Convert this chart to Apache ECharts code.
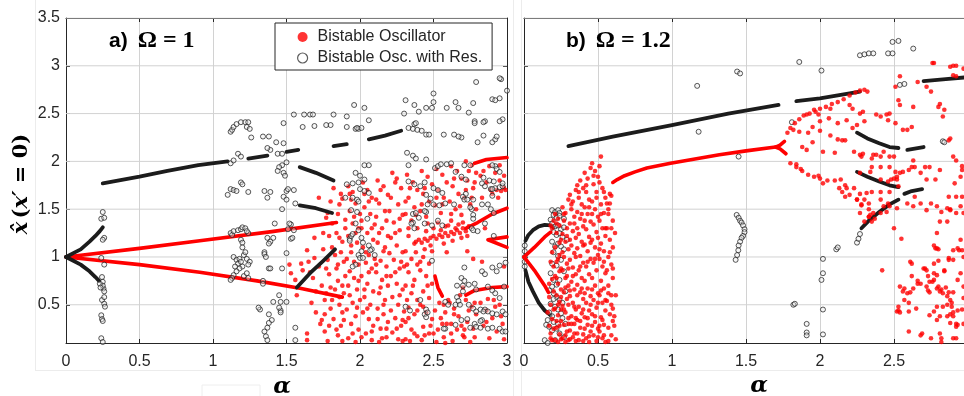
<!DOCTYPE html>
<html>
<head>
<meta charset="utf-8">
<script src="https://cdn.jsdelivr.net/npm/echarts@6/dist/echarts.min.js"></script>
<style>
  html, body { margin: 0; padding: 0; background: #fff; }
  #chart { width: 964px; height: 396px; }
</style>
</head>
<body>
<div id="chart"></div>
<script>
// ---- axis ticks ----
const alphaTicks = [0, 0.5, 1, 1.5, 2, 2.5, 3];
const xhatTicks = [0.5, 1, 1.5, 2, 2.5, 3, 3.5];

// ---- panel a) Omega = 1 ----
// dense branches of the bistable oscillator (drawn as continuous traces)
const aRedLines = [
  [[0,1],[0.5,1.09],[0.91,1.17],[1.4,1.265],[1.84,1.36]],
  [[0,1],[0.5,0.92],[0.91,0.84],[1.3,0.75],[1.6,0.67],[1.88,0.58]],
  [[2.72,1.3],[2.8,1.36],[2.9,1.45],[3.0,1.51]],
  [[3.0,1.21],[2.87,1.18],[3.0,1.1]],
  [[2.72,0.6],[2.78,0.65],[2.9,0.68],[3.0,0.69]],
  [[2.78,1.98],[2.86,2.02],[3.0,2.04]],
  [[2.51,0.8],[2.53,0.68],[2.56,0.59]]
];
// scattered points of the bistable oscillator
const aRedDots = [
  [1.52,0.92],[1.53,0.83],[1.56,0.76],[1.6,0.93],[1.61,0.86],[1.64,1.07],[1.65,0.95],[1.66,0.84],[1.57,0.6],[1.64,0.2],[1.64,0.13],[1.68,0.78],[1.69,0.99],[1.67,0.52],[1.7,0.42],[1.69,1.2],[1.7,0.64],
  [1.72,1.62],[1.73,0.3],[1.74,0.34],[1.72,0.9],[1.75,1.08],[1.74,0.7],[1.76,0.55],[1.78,1.46],[1.77,1.41],[1.76,0.22],[1.78,0.97],[1.79,0.82],[1.8,0.46],[1.78,0.12],[1.79,1.22],[1.77,0.62],
  [1.82,1.72],[1.86,1.55],[1.87,1.66],[1.88,1.61],[1.9,1.39],[1.9,1.3],[1.81,1.1],[1.83,1.02],[1.84,0.88],[1.85,0.75],[1.83,0.66],[1.86,0.5],[1.88,0.42],[1.82,0.35],[1.87,0.28],[1.85,0.18],[1.89,0.95],[1.88,1.16],[1.84,1.25],[1.9,0.8],[1.89,0.62],[1.81,0.55],
  [1.92,1.74],[1.95,1.68],[1.97,1.56],[1.93,1.48],[1.96,1.42],[1.92,1.22],[1.98,1.15],[1.94,1.05],[1.91,0.98],[1.99,0.92],[1.93,0.85],[1.96,0.78],[1.92,0.7],[1.98,0.66],[1.95,0.52],[1.91,0.45],[1.97,0.38],[1.94,0.3],[1.99,0.24],[1.92,0.15],[1.97,0.11],[2.0,0.55],[1.99,1.3],[1.94,1.6],
  [2.02,1.78],[2.05,1.7],[2.08,1.62],[2.03,1.52],[2.07,1.45],[2.01,1.38],[2.05,1.25],[2.09,1.18],[2.02,1.1],[2.06,1.02],[2.04,0.94],[2.08,0.88],[2.01,0.8],[2.05,0.72],[2.09,0.64],[2.03,0.58],[2.07,0.5],[2.02,0.42],[2.06,0.35],[2.09,0.28],[2.04,0.2],[2.08,0.13],[2.1,0.98],[2.1,1.34],
  [2.12,1.8],[2.16,1.74],[2.19,1.65],[2.13,1.56],[2.17,1.48],[2.11,1.42],[2.15,1.3],[2.19,1.22],[2.12,1.15],[2.16,1.06],[2.14,0.96],[2.18,0.9],[2.11,0.84],[2.15,0.76],[2.19,0.7],[2.13,0.62],[2.17,0.55],[2.12,0.46],[2.16,0.4],[2.19,0.32],[2.14,0.25],[2.18,0.16],[2.13,0.11],
  [2.22,1.88],[2.25,1.82],[2.28,1.72],[2.21,1.62],[2.26,1.55],[2.29,1.44],[2.23,1.36],[2.27,1.28],[2.21,1.2],[2.25,1.12],[2.29,1.05],[2.23,0.97],[2.27,0.88],[2.21,0.8],[2.25,0.72],[2.29,0.66],[2.22,0.58],[2.26,0.5],[2.3,0.43],[2.24,0.36],[2.28,0.28],[2.22,0.21],[2.26,0.14],[2.3,0.9],
  [2.32,1.86],[2.36,1.78],[2.39,1.7],[2.33,1.62],[2.37,1.52],[2.31,1.45],[2.35,1.38],[2.39,1.3],[2.33,1.22],[2.37,1.14],[2.31,1.06],[2.35,0.98],[2.39,0.92],[2.33,0.84],[2.37,0.76],[2.31,0.7],[2.35,0.62],[2.39,0.55],[2.33,0.47],[2.37,0.4],[2.31,0.32],[2.35,0.24],[2.39,0.17],[2.34,0.12],
  [2.38,1.16],[2.4,1.18],[2.42,1.15],[2.44,1.19],[2.46,1.17],[2.48,1.2],[2.5,1.22],[2.52,1.19],[2.54,1.23],[2.56,1.21],[2.58,1.25],[2.6,1.22],[2.62,1.26],[2.64,1.24],[2.66,1.28],[2.68,1.25],[2.7,1.3],[2.72,1.27],[2.74,1.32],[2.45,1.27],[2.5,1.3],[2.55,1.28],[2.6,1.33],[2.65,1.3],[2.7,1.36],[2.48,1.12],[2.57,1.14],[2.63,1.17],[2.69,1.2],[2.53,1.36],[2.62,1.38],[2.58,1.32],[2.67,1.34],[2.73,1.22],
  [2.42,1.9],[2.46,1.84],[2.49,1.76],[2.43,1.66],[2.47,1.58],[2.41,1.48],[2.45,1.42],[2.49,1.06],[2.43,1.0],[2.47,0.93],[2.41,0.86],[2.45,0.8],[2.49,0.72],[2.43,0.64],[2.47,0.57],[2.41,0.5],[2.45,0.42],[2.49,0.35],[2.43,0.27],[2.47,0.2],[2.42,0.13],
  [2.52,1.92],[2.56,1.86],[2.59,1.78],[2.53,1.7],[2.57,1.62],[2.51,1.54],[2.55,1.46],[2.59,1.05],[2.57,0.5],[2.51,0.44],[2.55,0.36],[2.59,0.3],[2.53,0.24],[2.57,0.16],[2.52,0.11],[2.6,0.55],[2.58,0.42],
  [2.62,1.95],[2.66,1.9],[2.69,1.82],[2.63,1.74],[2.67,1.66],[2.61,1.58],[2.65,1.5],[2.69,1.44],[2.61,0.52],[2.64,0.46],[2.67,0.38],[2.62,0.3],[2.66,0.24],[2.7,0.18],[2.63,0.12],[2.68,0.6],[2.7,0.68],
  [2.72,2.0],[2.76,1.96],[2.79,1.88],[2.73,1.8],[2.77,1.72],[2.71,1.62],[2.75,1.55],[2.79,1.5],[2.73,1.06],[2.77,0.98],[2.72,0.55],[2.76,0.48],[2.79,0.4],[2.73,0.32],[2.77,0.25],[2.71,0.16],[2.75,0.11],
  [2.82,1.85],[2.86,1.78],[2.89,1.7],[2.83,1.62],[2.92,1.88],[2.95,1.8],[2.98,1.72],[2.94,1.62],[2.82,0.52],[2.86,0.44],[2.9,0.36],[2.84,0.28],[2.93,0.22],[2.88,0.15],[2.97,0.3],[2.95,0.5],[2.83,0.95],[2.98,0.9],[2.85,1.3],
  [2.93,1.7],[2.96,1.69],[2.99,1.7],[2.9,1.66],
  [1.75,1.25],[1.77,0.88],[1.8,0.68],[1.76,0.4],[1.79,0.28],[1.81,1.35],[1.8,1.58],
  [1.85,1.45],[1.86,1.2],[1.87,1.05],[1.85,0.92],[1.88,0.7],[1.86,0.58],[1.89,0.34],[1.84,0.24],[1.88,0.12],
  [1.93,1.66],[1.95,1.35],[1.97,1.25],[1.94,1.12],[1.96,0.95],[1.93,0.6],[1.98,0.47],[1.95,0.2],[1.99,0.75],
  [2.03,1.66],[2.06,1.58],[2.01,1.3],[2.08,1.3],[2.04,1.05],[2.06,0.84],[2.03,0.66],[2.05,0.46],[2.08,0.22],[2.01,0.16],[2.0,1.45],
  [2.14,1.7],[2.11,1.6],[2.18,1.38],[2.13,1.25],[2.17,1.1],[2.11,0.92],[2.18,0.8],[2.14,0.68],[2.16,0.5],[2.12,0.35],[2.18,0.25],[2.15,0.15],
  [2.24,1.78],[2.2,1.48],[2.27,1.4],[2.24,1.25],[2.2,1.04],[2.28,0.95],[2.24,0.84],[2.27,0.6],[2.21,0.44],[2.29,0.34],[2.25,0.25],[2.29,0.12],
  [2.34,1.72],[2.31,1.58],[2.38,1.44],[2.33,1.3],[2.38,1.05],[2.32,0.92],[2.36,0.7],[2.32,0.55],[2.39,0.44],[2.33,0.36],[2.37,0.2],[2.31,0.14],
  [2.44,1.72],[2.42,1.55],[2.46,1.35],[2.44,1.08],[2.41,0.95],[2.46,0.7],[2.43,0.48],[2.48,0.28],[2.44,0.18],
  [2.52,1.62],[2.56,1.55],[2.54,0.52],[2.56,0.3],[2.5,0.2],[2.58,0.1],
  [2.64,1.82],[2.62,1.45],[2.68,1.53],[2.64,0.4],[2.69,0.28],[2.62,0.2],
  [2.74,1.9],[2.78,1.78],[2.72,1.7],[2.76,1.62],[2.74,0.44],[2.78,0.52],[2.71,0.24],[2.78,0.16],
  [2.84,1.9],[2.88,1.95],[2.95,1.96],[2.98,1.85],[2.87,0.56],[2.92,0.48],[2.96,0.38],[2.86,0.32],[2.98,0.14],[2.91,0.55]
];
// dense branches of the bistable oscillator with resonator
const aBlackLines = [
  [[0,1],[0.05,1.04],[0.1,1.08],[0.16,1.16],[0.2,1.22],[0.23,1.27],[0.25,1.31]],
  [[0,1],[0.05,0.96],[0.1,0.92],[0.16,0.85],[0.2,0.79],[0.225,0.75]],
  [[0.25,1.77],[0.5,1.84],[0.69,1.9],[0.9,1.96],[1.1,2.0]],
  [[1.24,2.03],[1.37,2.06]],
  [[1.5,2.1],[1.58,2.12]],
  [[1.82,2.16],[1.91,2.18]],
  [[2.06,2.23],[2.17,2.27],[2.28,2.32]],
  [[1.59,1.94],[1.7,1.88],[1.82,1.8]],
  [[1.59,1.54],[1.7,1.51],[1.81,1.46]],
  [[1.57,0.68],[1.66,0.83],[1.75,0.96],[1.83,1.08]]
];
const aBlackDots = [
  [0.25,1.47],[0.24,1.4],[0.26,1.41],[0.26,1.2],[0.25,1.18],[0.24,0.99],[0.26,0.92],[0.245,0.79],[0.25,0.74],[0.255,0.67],[0.26,0.64],[0.25,0.7],[0.245,0.55],[0.26,0.51],[0.265,0.48],[0.24,0.39],[0.245,0.35],[0.25,0.33],[0.24,0.15],[0.25,0.11],[0.23,0.72],[0.235,0.68],[0.26,0.58],
  [1.12,1.98],[1.14,2.01],[1.17,2.08],[1.19,2.05],
  [1.55,2.49],[1.62,2.49],[1.66,2.49],[1.68,2.49],[1.82,2.49],[1.91,2.47],[1.96,2.59],[1.48,2.4],[1.69,2.37],[1.77,2.38],[1.8,2.38],[1.61,2.36],[1.91,2.36],[1.97,2.34],[1.99,2.34],
  [1.12,2.31],[1.13,2.33],[1.14,2.36],[1.16,2.39],[1.19,2.41],[1.22,2.41],[1.24,2.41],[1.23,2.36],
  [1.25,2.34],[1.26,2.25],[1.34,2.26],[1.38,2.26],[1.43,2.2],[1.48,2.19],[1.39,2.12],[1.44,2.08],[1.47,2.08],[1.37,2.14],
  [1.5,1.99],[1.47,1.96],[1.45,1.94],[1.44,1.9],[1.48,1.88],[1.49,1.85],
  [1.91,1.76],[1.95,1.77],[1.99,1.78],
  [1.12,1.71],[1.14,1.7],[1.16,1.69],[1.19,1.78],[1.2,1.76],[1.1,1.65],[1.24,1.68],[1.35,1.69],[1.39,1.68],[1.37,1.62],[1.5,1.69],[1.51,1.71],[1.55,1.7],[1.48,1.63],[1.5,1.6],[1.56,1.56],[1.47,1.5],[1.9,1.62],[1.95,1.62],[1.98,1.6],[1.99,1.58],[1.94,1.49],[1.98,1.47],
  [1.12,1.25],[1.13,1.23],[1.14,1.27],[1.17,1.28],[1.19,1.29],[1.2,1.31],[1.22,1.3],[1.24,1.25],[1.19,1.18],[1.2,1.15],[1.2,1.1],[1.23,1.27],
  [1.37,1.2],[1.39,1.16],[1.38,1.14],[1.35,1.05],[1.35,1.03],[1.36,1.0],[1.51,1.29],[1.53,1.34],[1.53,1.19],[1.5,1.04],
  [1.14,1.0],[1.16,0.97],[1.18,0.98],[1.21,1.02],[1.22,1.05],[1.23,0.98],[1.25,0.95],[1.24,0.92],[1.2,0.9],[1.18,0.88],[1.16,0.85],[1.14,0.81],[1.13,0.78],[1.12,0.76],[1.17,0.93],[1.19,0.95],[1.21,0.8],[1.24,0.78],[1.23,0.83],[1.15,0.9],
  [1.38,0.88],[1.34,0.75],[1.41,0.53],[1.46,0.53],[1.5,0.53],[1.32,0.45],[1.38,0.4],[1.4,0.34],[1.46,0.44],[1.46,0.42],[1.38,0.31],[1.37,0.26],[1.56,0.26],[1.35,0.22],[1.36,0.17],[1.37,0.13],[1.56,0.13],[1.34,0.72],[1.45,0.6],[1.47,0.88],[1.39,0.88],[1.52,1.35],[1.55,1.28],[1.42,1.35],[1.41,1.2],[1.54,1.2],[1.31,0.47],[1.45,0.47],
  [1.93,1.19],[1.94,1.22],[1.93,1.17],[1.95,1.24],
  [2.79,2.83],[2.96,2.86],[2.5,2.71],[2.5,2.62],[2.31,2.64],[2.37,2.59],[2.45,2.56],[2.49,2.56],[2.59,2.56],[2.65,2.62],[2.67,2.56],[2.77,2.61],[2.9,2.65],[2.92,2.64],[2.95,2.66],[2.3,2.5],[2.4,2.52],[2.74,2.51],[2.85,2.42],[2.78,2.42],[2.97,2.44],[2.06,2.43],[2.03,2.56],[3.0,2.74],[2.95,2.87],[2.84,2.41],[2.84,2.27],[2.9,2.2],[2.92,2.23],[2.93,2.26],[2.95,2.42],
  [2.33,2.35],[2.36,2.34],[2.39,2.33],[2.42,2.32],[2.37,2.39],[2.38,2.4],[1.98,2.35],[2.01,2.35],
  [2.45,2.28],[2.47,2.28],[2.57,2.28],[2.64,2.28],[2.69,2.25],[2.67,2.26],[2.8,2.2],[2.78,2.4],
  [2.32,2.09],[2.36,2.06],[2.38,2.03],[2.45,2.02],[2.03,1.96],[2.06,1.96],[2.33,1.96],
  [2.51,1.93],[2.53,1.95],[2.55,1.97],[2.59,1.97],[2.62,1.98],[2.71,1.96],[2.75,1.96],[2.65,1.89],[2.69,1.84],[2.72,1.81],[2.92,1.95],[2.93,1.92],[2.95,1.89],[2.9,1.96],[2.83,1.77],[2.85,1.74],[2.89,1.71],[2.92,1.72],[2.95,1.73],[2.97,1.74],[2.97,1.77],[2.84,1.83],[2.88,1.8],[2.91,1.79],
  [1.97,1.88],[2.0,1.85],[2.03,1.81],[2.0,1.71],[2.03,1.69],[2.06,1.67],
  [2.33,1.79],[2.37,1.76],[2.41,1.74],[2.44,1.78],[2.5,1.72],[2.53,1.7],[2.56,1.67],[2.45,1.65],[2.48,1.61],[2.5,1.55],[2.45,1.47],[2.72,1.66],[2.77,1.6],[2.53,1.38],[2.56,1.33],[2.36,1.36],[2.4,1.41],[2.44,1.48],[2.7,1.63],[2.71,1.6],[2.83,1.55],[2.87,1.55],[2.9,1.64],[2.9,1.71],[2.76,1.5],[2.75,1.52],[2.89,1.5],
  [1.97,1.35],[1.99,1.28],[2.01,1.2],[2.02,1.15],[2.06,1.12],[2.08,1.08],[2.01,1.06],[1.99,1.02],[2.0,0.99],[2.02,0.99],[1.97,0.92],
  [2.35,1.35],[2.36,1.45],[2.37,1.3],[2.44,1.35],[2.46,1.55],[2.49,1.33],
  [2.76,1.3],[2.8,1.27],[2.85,1.35],[2.77,1.28],
  [2.49,0.96],[2.71,0.89],[2.83,0.85],[2.9,0.89],[2.95,0.91],[2.99,0.94],[2.69,0.78],[2.71,0.75],[2.78,0.72],[2.74,0.71],[2.87,0.69],[2.9,0.65],[2.92,0.62],[2.98,0.69],[2.95,0.57],[2.58,0.53],[2.6,0.5],[2.65,0.5],[2.74,0.5],[2.77,0.46],[2.79,0.43],[2.85,0.45],[2.87,0.43],[2.9,0.41],[2.97,0.43],[2.99,0.4],[2.83,0.34],[2.78,0.3],[2.75,0.26],[2.69,0.34],[2.65,0.29],[2.58,0.25],[2.87,0.25],[2.9,0.26],[2.95,0.25],[2.97,0.22],[2.99,0.22],[2.44,0.4],[2.45,0.37],[2.31,0.48],
  [2.05,1.4],[2.07,1.07],[2.1,1.02],[1.95,0.9],[2.38,1.46],[2.54,1.54],[2.58,1.56],[2.64,1.55],[2.73,1.6],[2.91,1.46],[2.77,1.44],[2.77,1.4],[2.91,1.22],[2.93,0.85],[2.85,0.82],[2.79,0.66],[2.7,0.7],[2.7,0.64],[2.66,0.7],[2.66,0.58],[2.67,0.54],[2.68,0.5],[2.82,0.45],[2.84,0.43],[2.93,0.4],[2.82,0.33],[2.73,0.35],[2.79,0.27],[2.82,0.26],[2.45,0.45],[2.46,0.42],[2.57,0.25],[2.34,0.44],[2.41,0.55]
];

// ---- panel b) Omega = 1.2 ----
const bRedLines = [
  [[0,1],[0.07,1.1],[0.14,1.21],[0.18,1.26]],
  [[0,1],[0.07,0.86],[0.14,0.7],[0.165,0.63]],
  [[0.6,1.78],[0.63,1.81],[0.68,1.85],[0.75,1.89],[0.83,1.93],[0.99,1.98],[1.32,2.07],[1.5,2.11],[1.7,2.15],[1.73,2.17],[1.76,2.21]],
  [[1.7,2.15],[1.73,2.13],[1.77,2.08]]
];
const bRedDots = [
  [0.17,0.58],[0.18,0.5],[0.16,0.42],[0.19,0.35],[0.17,0.28],[0.18,0.2],[0.19,0.13],[0.2,0.64],[0.19,1.3],[0.2,1.38],[0.18,1.33],[0.2,0.9],[0.19,0.77],
  [0.21,1.45],[0.23,1.4],[0.24,1.33],[0.22,1.25],[0.25,1.18],[0.21,1.1],[0.24,1.02],[0.22,0.95],[0.25,0.88],[0.21,0.8],[0.23,0.72],[0.25,0.66],[0.22,0.6],[0.24,0.53],[0.21,0.46],[0.23,0.39],[0.25,0.33],[0.22,0.26],[0.24,0.19],[0.21,0.13],[0.23,0.11],[0.25,0.45],[0.24,0.85],
  [0.26,1.52],[0.28,1.46],[0.3,1.6],[0.27,1.38],[0.29,1.3],[0.26,1.24],[0.28,1.16],[0.3,1.08],[0.27,1.0],[0.29,0.93],[0.26,0.86],[0.28,0.78],[0.3,0.7],[0.27,0.63],[0.29,0.56],[0.26,0.49],[0.28,0.42],[0.3,0.36],[0.27,0.29],[0.29,0.22],[0.26,0.15],[0.28,0.11],[0.3,0.5],[0.29,0.8],
  [0.31,1.65],[0.33,1.58],[0.35,1.7],[0.32,1.5],[0.34,1.42],[0.31,1.35],[0.33,1.27],[0.35,1.2],[0.32,1.12],[0.34,1.04],[0.31,0.97],[0.33,0.89],[0.35,0.82],[0.32,0.74],[0.34,0.66],[0.31,0.59],[0.33,0.52],[0.35,0.45],[0.32,0.38],[0.34,0.3],[0.31,0.23],[0.33,0.16],[0.35,0.12],[0.35,0.36],
  [0.36,1.75],[0.38,1.8],[0.4,1.72],[0.37,1.62],[0.39,1.55],[0.36,1.47],[0.38,1.4],[0.4,1.32],[0.37,1.24],[0.39,1.16],[0.36,1.09],[0.38,1.01],[0.4,0.94],[0.37,0.86],[0.39,0.78],[0.36,0.71],[0.38,0.63],[0.4,0.56],[0.37,0.48],[0.39,0.41],[0.36,0.34],[0.38,0.26],[0.4,0.19],[0.37,0.13],[0.39,0.67],
  [0.41,1.88],[0.43,1.82],[0.45,1.93],[0.42,1.68],[0.44,1.6],[0.41,1.52],[0.43,1.45],[0.45,1.37],[0.42,1.29],[0.44,1.21],[0.41,1.13],[0.43,1.06],[0.45,0.98],[0.42,0.9],[0.44,0.82],[0.41,0.75],[0.43,0.67],[0.45,0.59],[0.42,0.52],[0.44,0.44],[0.41,0.37],[0.43,0.29],[0.45,0.22],[0.42,0.15],[0.44,0.11],
  [0.46,1.98],[0.48,1.9],[0.5,1.84],[0.47,1.76],[0.49,1.68],[0.46,1.58],[0.48,1.5],[0.5,1.42],[0.47,1.34],[0.49,1.26],[0.46,1.18],[0.48,1.1],[0.5,1.02],[0.47,0.94],[0.49,0.86],[0.46,0.78],[0.48,0.7],[0.5,0.62],[0.47,0.55],[0.49,0.47],[0.46,0.4],[0.48,0.32],[0.5,0.25],[0.47,0.18],[0.49,0.12],
  [0.52,2.05],[0.51,1.78],[0.53,1.72],[0.55,1.62],[0.52,1.55],[0.54,1.46],[0.51,1.38],[0.53,1.3],[0.55,1.22],[0.52,1.14],[0.54,1.06],[0.51,0.98],[0.53,0.9],[0.55,0.83],[0.52,0.75],[0.54,0.67],[0.51,0.6],[0.53,0.52],[0.55,0.44],[0.52,0.37],[0.54,0.29],[0.51,0.22],[0.53,0.15],[0.55,0.11],
  [0.58,1.66],[0.59,1.64],[0.56,1.56],[0.58,1.56],[0.57,1.45],[0.6,1.38],[0.56,1.3],[0.615,1.25],[0.58,1.18],[0.6,1.1],[0.57,1.0],[0.59,0.92],[0.56,0.86],[0.6,0.78],[0.57,0.7],[0.59,0.6],[0.56,0.54],[0.6,0.46],[0.58,0.4],[0.6,0.33],[0.57,0.26],[0.62,0.14],[0.59,0.18],[0.61,0.38],
  [0.18,0.95],[0.19,1.05],[0.17,0.72],[0.2,0.45],[0.2,0.25],[0.18,0.15],
  [0.22,1.35],[0.24,1.15],[0.23,0.98],[0.22,0.78],[0.25,0.58],[0.23,0.5],[0.22,0.33],[0.24,0.28],[0.25,0.14],
  [0.27,1.45],[0.29,1.22],[0.26,1.05],[0.3,0.88],[0.28,0.68],[0.27,0.45],[0.3,0.3],[0.28,0.18],[0.3,0.13],
  [0.32,1.55],[0.34,1.35],[0.31,1.18],[0.35,1.0],[0.33,0.8],[0.31,0.65],[0.34,0.48],[0.32,0.3],[0.34,0.2],[0.31,0.14],
  [0.37,1.68],[0.39,1.45],[0.36,1.3],[0.4,1.12],[0.38,0.9],[0.36,0.6],[0.4,0.45],[0.38,0.33],[0.36,0.2],[0.4,0.12],
  [0.42,1.75],[0.44,1.52],[0.41,1.38],[0.45,1.15],[0.43,0.95],[0.41,0.62],[0.45,0.5],[0.43,0.36],[0.41,0.25],[0.44,0.17],
  [0.47,1.85],[0.49,1.62],[0.46,1.45],[0.5,1.2],[0.48,0.98],[0.46,0.66],[0.5,0.52],[0.48,0.38],[0.46,0.28],[0.5,0.16],
  [0.51,1.95],[0.54,1.68],[0.52,1.45],[0.55,1.3],[0.51,1.08],[0.54,0.95],[0.52,0.65],[0.55,0.55],[0.53,0.34],[0.51,0.28],[0.54,0.18],
  [0.57,1.5],[0.59,1.3],[0.58,1.05],[0.6,0.88],[0.57,0.62],[0.59,0.5],[0.61,0.28],[0.57,0.12],[0.62,0.6],
  [1.78,2.3],[1.8,2.35],[1.83,2.4],[1.86,2.44],[1.89,2.48],[1.93,2.5],[1.97,2.52],[2.0,2.55],[2.04,2.57],[2.08,2.6],[2.12,2.62],[2.16,2.65],[2.2,2.69],[2.24,2.72],[2.27,2.74],[2.3,2.75],[2.32,2.73],
  [1.8,1.98],[1.84,1.94],[1.88,1.9],[1.92,1.86],[1.96,1.84],[2.0,1.82],[2.05,1.8],[2.1,1.8],[2.14,1.81],[2.17,1.75],[2.15,1.68],[2.13,1.72],
  [1.82,2.33],[1.86,2.31],[1.92,2.3],[1.95,2.36],[2.07,2.27],[2.12,2.23],[2.15,2.22],[2.17,2.22],[1.88,2.15],[1.91,2.12],[2.02,2.1],[2.1,2.09],[1.84,1.97],[1.87,1.92],[1.99,1.85],[2.02,1.77],[2.18,1.72],[2.2,1.65],[2.23,1.72],[2.27,1.66],[2.25,1.6],[2.28,1.55],[2.33,1.5],[2.3,1.6],[2.0,2.42],[1.95,2.2],[2.23,2.1],[2.28,2.05],[2.22,2.35],[2.25,2.38],[2.3,2.42],[2.0,2.32],[2.06,2.45],[2.12,2.4],[2.18,2.43],[2.22,2.55],[2.27,2.5],
  [1.99,2.49],[1.91,2.49],[1.96,2.54],[2.07,2.55],[2.2,2.59],[2.29,2.52],[2.34,1.44],[2.35,1.37],[2.3,1.37],[2.33,1.42],[2.17,1.63],[2.25,1.6],
  [2.81,1.91],[2.78,1.81],[2.74,1.94],[2.71,1.94],[2.72,1.81],[2.68,1.88],[2.64,1.94],[2.63,2.01],[2.62,1.94],[2.6,1.91],[2.56,1.89],[2.54,1.88],[2.51,1.89],[2.48,1.81],[2.52,1.84],[2.47,1.94],[2.47,2.05],[2.5,2.05],[2.43,2.1],[2.41,2.05],[2.38,2.07],[2.36,2.07],[2.35,2.03],[2.29,2.08],[2.27,2.07],[2.35,1.94],[2.41,1.94],[2.34,1.89],[2.27,1.88],[2.41,1.81],[2.46,1.79],[2.5,1.82],[2.52,1.81],[2.53,1.74],[2.47,1.68],[2.41,1.68],[2.35,1.68],[2.315,1.67],[2.33,1.56],[2.28,1.54],[2.27,1.46],[2.33,1.42],[2.36,1.46],[2.41,1.6],[2.43,1.53],[2.46,1.56],[2.47,1.53],[2.45,1.47],[2.41,1.46],[2.37,1.4],[2.52,1.51],[2.59,1.56],[2.63,1.53],[2.64,1.63],[2.68,1.56],[2.72,1.49],[2.75,1.56],[2.79,1.53],[2.82,1.47],[2.86,1.51],[2.88,1.49],[2.92,1.46],[2.87,1.63],[2.92,1.63],[2.96,1.63],[2.91,1.77],
  [2.81,1.37],[2.86,1.37],[2.79,1.25],[2.78,1.09],[2.79,1.09],[2.9,1.07],[2.93,1.09],[2.96,1.07],[2.87,0.97],[2.9,0.97],[2.84,0.86],[2.77,0.83],[2.79,0.81],[2.71,0.88],[2.72,0.86],[2.61,0.95],[2.5,1.3],[2.42,0.86],[2.54,0.69],[2.57,0.67],[2.56,0.64],[2.59,0.62],[2.57,0.55],[2.53,0.48],[2.52,0.43],[2.6,0.43],[2.63,0.67],[2.66,0.72],[2.72,0.69],[2.73,0.65],[2.77,0.76],[2.79,0.67],[2.81,0.64],[2.83,0.62],[2.86,0.59],[2.88,0.55],[2.89,0.52],[2.89,0.48],[2.86,0.5],[2.83,0.48],[2.79,0.48],[2.77,0.43],[2.81,0.38],[2.86,0.38],[2.9,0.38],[2.88,0.31],[2.92,0.27],[2.93,0.29],[2.81,0.2],[2.75,0.15],[2.82,0.11],[2.68,0.18],[2.6,0.22],[2.96,0.45],[2.97,0.57],[2.97,0.69],[2.95,0.83],[2.97,1.0],[2.95,1.18],[2.97,1.46],[2.95,1.53],
  [2.54,2.59],[2.53,2.64],[2.51,2.78],[2.54,2.89],[2.66,2.83],[2.72,2.78],[2.75,2.73],[2.77,3.03],[2.88,2.99],[2.9,2.9],[2.92,2.89],[2.97,2.97],[2.51,2.4],[2.56,2.33],[2.59,2.33],[2.62,2.36],[2.63,2.57],[2.8,2.57],[2.81,2.6],[2.84,2.54],[2.83,2.47],[2.88,2.24],[2.87,2.22],[2.9,2.05],[2.92,2.01],[2.96,1.95],[2.96,1.91],[2.95,1.84],[2.38,2.49],[2.41,2.47],[2.45,2.49],[2.47,2.5],[2.46,2.43],[2.76,3.03],[2.9,3.0],[2.92,3.0],
  [2.55,1.19],[2.61,0.63],[2.6,0.52],[2.66,0.75],[2.7,0.88],[2.73,0.8],[2.77,0.93],[2.77,1.12],[2.8,0.96],[2.8,1.08],[2.87,0.99],[2.94,1.07],[2.88,1.5],[2.84,0.85],[2.93,0.76],[2.74,0.74],[2.76,0.74],[2.8,0.69],[2.85,0.68],[2.87,0.63],[2.9,0.63],[2.74,0.63],[2.82,0.66],[2.74,0.39],[2.79,0.34],[2.88,0.4],[2.9,0.42],[2.92,0.3],[2.93,0.44],[2.82,0.15],[2.69,0.2],[2.9,0.15],[2.92,0.15],[2.97,0.3],[2.65,0.46],[2.68,0.72],[2.62,0.8],[2.62,0.93],[2.53,0.44],[2.54,0.42]
];
const bBlackLines = [
  [[0.3,2.16],[0.6,2.26],[1.0,2.38],[1.38,2.5],[1.72,2.59]],
  [[1.84,2.63],[2.0,2.66],[2.27,2.73]],
  [[2.7,2.84],[2.85,2.86],[2.99,2.88]],
  [[0.01,1.17],[0.03,1.23],[0.06,1.28],[0.1,1.32],[0.14,1.335],[0.18,1.33],[0.2,1.31]],
  [[0.01,0.86],[0.03,0.74],[0.06,0.64],[0.1,0.52],[0.14,0.44],[0.18,0.39]],
  [[2.25,2.3],[2.32,2.24],[2.4,2.19],[2.47,2.15],[2.53,2.14]],
  [[2.59,2.12],[2.7,2.15]],
  [[2.25,1.89],[2.32,1.84],[2.4,1.79],[2.47,1.75],[2.53,1.73]],
  [[2.57,1.66],[2.62,1.69],[2.69,1.71]],
  [[2.28,1.3],[2.33,1.38],[2.4,1.47],[2.47,1.55],[2.53,1.6]]
];
const bBlackDots = [
  [0.19,1.49],[0.21,1.47],[0.23,1.49],[0.24,1.46],[0.2,1.44],[0.22,1.41],[0.24,1.43],[0.27,1.4],[0.18,1.39],[0.19,1.35],[0.21,1.32],[0.23,1.33],[0.25,1.29],[0.27,1.31],[0.2,1.26],[0.22,1.23],[0.24,1.25],[0.26,1.21],[0.29,1.18],[0.19,1.16],[0.21,1.11],[0.23,1.14],[0.25,1.11],[0.27,1.08],[0.2,1.05],[0.23,1.01],[0.25,0.97],[0.19,0.93],[0.22,0.91],[0.18,0.83],[0.2,0.76],[0.22,0.71],[0.19,0.69],[0.17,0.65],[0.2,0.62],[0.22,0.58],[0.24,0.55],[0.18,0.51],[0.21,0.48],[0.23,0.45],[0.25,0.41],[0.19,0.38],[0.16,0.34],[0.15,0.29],[0.17,0.27],[0.19,0.23],[0.22,0.25],[0.24,0.2],[0.27,0.16],[0.21,0.13],[0.14,0.13],[0.16,0.1],[0.26,0.52],[0.28,0.64],[0.27,0.85],[0.24,0.76],[0.28,0.3],[0.26,0.36],[0.23,0.3],[0.2,0.32],[0.17,0.42],[0.2,0.56],
  [0.005,1.12],[0.005,1.06],[0.005,1.0],[0.005,0.95],[0.005,0.9],
  [1.17,2.79],[1.18,2.31],[1.45,2.05],[1.44,2.94],[1.46,2.92],[1.81,2.41],[1.86,3.04],[2.01,2.95],[2.27,3.11],[2.3,3.12],[2.33,3.13],[2.36,3.13],[2.46,3.13],[2.49,3.13],[2.49,3.25],[2.53,3.26],[2.63,3.18],[2.54,2.8],[2.57,2.81],[2.83,2.21],[2.84,2.2],
  [1.437,1.44],[1.45,1.41],[1.46,1.38],[1.47,1.36],[1.48,1.33],[1.49,1.29],[1.49,1.26],[1.48,1.22],[1.47,1.2],[1.46,1.16],[1.45,1.12],[1.448,1.07],[1.44,1.02],[1.43,0.97],
  [1.82,0.5],[1.83,0.51],[1.91,0.3],[1.91,0.21],[1.91,0.18],[2.02,0.98],[2.02,0.83],[2.01,0.76],[2.02,0.45],[2.02,0.19],[2.11,1.08],[2.12,1.1],[2.25,1.15],[2.26,1.19],[2.27,1.24]
];

// ---- assemble series ----
const RED = '#ff0000';
const NAME_RED = 'Bistable Oscillator';
const NAME_BLK = 'Bistable Osc. with Res.';
const GRIDLINE = '#d2d2d2';

function redDots(data, gi, z) {
  return { type: 'scatter', name: NAME_RED, xAxisIndex: gi * 2, yAxisIndex: gi * 2, data,
    symbol: 'circle', symbolSize: 4.6, itemStyle: { color: RED }, z, silent: true };
}
function blackDots(data, gi, z) {
  return { type: 'scatter', name: NAME_BLK, xAxisIndex: gi * 2, yAxisIndex: gi * 2, data,
    symbol: 'circle', symbolSize: 5,
    itemStyle: { color: 'rgba(235,235,235,0.55)', borderColor: 'rgba(25,25,25,0.9)', borderWidth: 1 },
    z, silent: true };
}
function traces(list, gi, name, color, width, z) {
  return list.map(seg => ({ type: 'line', name, xAxisIndex: gi * 2, yAxisIndex: gi * 2, data: seg,
    symbol: 'none', showSymbol: false, silent: true, z,
    lineStyle: { color, width, cap: 'round', join: 'round' } }));
}
// horizontal grid lines at the labelled x-hat values
function hGrid(gi) {
  return xhatTicks.map(v => ({ type: 'line', xAxisIndex: gi * 2, yAxisIndex: gi * 2,
    data: [[alphaTicks[0], v], [alphaTicks[alphaTicks.length - 1], v]],
    symbol: 'none', showSymbol: false, silent: true, z: 0,
    lineStyle: { color: GRIDLINE, width: 1 } }));
}

const series = [
  ...hGrid(0), ...hGrid(1),
  redDots(aRedDots, 0, 2),
  ...traces(aRedLines, 0, NAME_RED, RED, 3.6, 2),
  blackDots(aBlackDots, 0, 3),
  ...traces(aBlackLines, 0, NAME_BLK, '#1c1c1c', 3.8, 3),
  blackDots(bBlackDots, 1, 2),
  ...traces(bBlackLines, 1, NAME_BLK, '#1c1c1c', 3.8, 2),
  redDots(bRedDots, 1, 3),
  ...traces(bRedLines, 1, NAME_RED, RED, 3.6, 3)
];

const AX = '#262626';
function xBottom(gi, showLabel) {
  return { gridIndex: gi, type: 'value', min: 0, max: 3, interval: 0.5, position: 'bottom',
    axisLine: { show: true, onZero: false, lineStyle: { color: AX, width: 1 } },
    axisTick: { show: true, inside: true, length: 4, lineStyle: { color: AX } },
    axisLabel: { show: showLabel, fontSize: 16, color: AX, margin: 11, fontFamily: 'Liberation Sans' },
    splitLine: { show: true, lineStyle: { color: GRIDLINE, width: 1 } } };
}
function xTop(gi) {
  return { gridIndex: gi, type: 'value', min: 0, max: 3, interval: 0.5, position: 'top',
    axisLine: { show: true, onZero: false, lineStyle: { color: AX, width: 1 } },
    axisTick: { show: true, inside: true, length: 4, lineStyle: { color: AX } },
    axisLabel: { show: false }, splitLine: { show: false } };
}
function yLeft(gi, showLabel) {
  return { gridIndex: gi, type: 'value', min: 0.1, max: 3.5, position: 'left',
    axisLine: { show: true, onZero: false, lineStyle: { color: AX, width: 1 } },
    axisTick: { show: true, inside: true, length: 4, customValues: xhatTicks, lineStyle: { color: AX } },
    axisLabel: { show: showLabel, customValues: xhatTicks, fontSize: 16, color: AX, margin: 6, fontFamily: 'Liberation Sans' },
    splitLine: { show: false } };
}
function yRight(gi) {
  return { gridIndex: gi, type: 'value', min: 0.1, max: 3.5, position: 'right',
    axisLine: { show: true, onZero: false, lineStyle: { color: AX, width: 1 } },
    axisTick: { show: true, inside: true, length: 4, customValues: xhatTicks, lineStyle: { color: AX } },
    axisLabel: { show: false }, splitLine: { show: false } };
}

const serifBoldItalic = { fontFamily: 'DejaVu Serif', fontWeight: 'bold', fontStyle: 'italic', fontSize: 21, fill: '#000', color: '#000' };
const serifBold = { fontFamily: 'DejaVu Serif', fontWeight: 'bold', fontSize: 21, fill: '#000', color: '#000' };

const option = {
  animation: false,
  backgroundColor: '#ffffff',
  grid: [
    { left: 66, top: 18, width: 441, height: 325, show: false, containLabel: false, outerBoundsMode: 'none' },
    { left: 524, top: 18, width: 444, height: 325, show: false, containLabel: false, outerBoundsMode: 'none' }
  ],
  xAxis: [xBottom(0, true), xTop(0), xBottom(1, true), xTop(1)],
  yAxis: [yLeft(0, true), yRight(0), yLeft(1, false), yRight(1)],
  title: [
    { left: 104, top: 24, text: '{a|a)}  {b|Ω = 1}',
      textStyle: { rich: {
        a: { fontFamily: 'Liberation Sans', fontWeight: 'bold', fontSize: 21, color: '#000' },
        b: { fontFamily: 'Liberation Serif', fontWeight: 'bold', fontSize: 24, color: '#000' } } } },
    { left: 561, top: 24, text: '{a|b)}  {b|Ω = 1.2}',
      textStyle: { rich: {
        a: { fontFamily: 'Liberation Sans', fontWeight: 'bold', fontSize: 21, color: '#000' },
        b: { fontFamily: 'Liberation Serif', fontWeight: 'bold', fontSize: 24, color: '#000' } } } }
  ],
  legend: {
    orient: 'vertical', left: 275, top: 23, padding: [6, 10, 4, 22],
    itemWidth: 20, itemHeight: 10, itemGap: 5, selectedMode: false,
    backgroundColor: '#ffffff', borderColor: '#262626', borderWidth: 1, borderRadius: 0,
    textStyle: { fontSize: 16, fontFamily: 'Liberation Sans', color: '#262626', lineHeight: 16 },
    data: [
      { name: NAME_RED, icon: 'circle', itemStyle: { color: RED, borderWidth: 0 } },
      { name: NAME_BLK, icon: 'circle', itemStyle: { color: '#ffffff', borderColor: '#333333', borderWidth: 1.2 } }
    ],
    z: 10
  },
  graphic: [
    { type: 'line', shape: { x1: 35.5, y1: 0, x2: 35.5, y2: 370 }, style: { stroke: '#ececec', lineWidth: 1 }, z: -1 },
    { type: 'line', shape: { x1: 35, y1: 370.5, x2: 964, y2: 370.5 }, style: { stroke: '#ececec', lineWidth: 1 }, z: -1 },
    { type: 'line', shape: { x1: 513.5, y1: 0, x2: 513.5, y2: 396 }, style: { stroke: '#ececec', lineWidth: 1 }, z: -1 },
    { type: 'line', shape: { x1: 521.5, y1: 0, x2: 521.5, y2: 396 }, style: { stroke: '#ececec', lineWidth: 1 }, z: -1 },
    { type: 'rect', shape: { x: 202, y: 385, width: 58, height: 14 }, style: { fill: '#ffffff', stroke: '#eeeeee', lineWidth: 1 }, z: 0 },
    { type: 'text', x: 22, y: 184, rotation: Math.PI / 2,
      style: { text: '{i|x\u0302} {n|(}{i|x\u2032}{n| = 0)}', align: 'center', verticalAlign: 'middle',
        textAlign: 'center', textVerticalAlign: 'middle',
        rich: { i: serifBoldItalic, n: serifBold } }, z: 5 },
    { type: 'text', x: 282, y: 387,
      style: { text: 'α', align: 'center', verticalAlign: 'middle', textAlign: 'center', textVerticalAlign: 'middle',
        font: 'italic bold 23px "DejaVu Serif"', fill: '#000' }, z: 5 },
    { type: 'text', x: 759, y: 386,
      style: { text: 'α', align: 'center', verticalAlign: 'middle', textAlign: 'center', textVerticalAlign: 'middle',
        font: 'italic bold 23px "DejaVu Serif"', fill: '#000' }, z: 5 }
  ],
  series
};

const chart = echarts.init(document.getElementById('chart'), null, { renderer: 'canvas' });
chart.setOption(option);
</script>
</body>
</html>
